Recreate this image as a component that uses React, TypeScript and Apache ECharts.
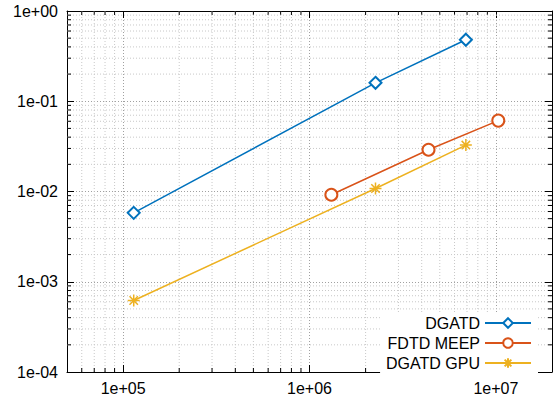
import React, { useEffect, useRef } from "react";
import * as echarts from "echarts";

// ---- data ----
const seriesNames = ["DGATD", "FDTD MEEP", "DGATD GPU"];
const xDGATD = [1.14e5, 2.26e6, 6.9e6];
const yDGATD = [5.8e-3, 0.16, 0.48];
const xMEEP = [1.31e6, 4.35e6, 1.03e7];
const yMEEP = [9.2e-3, 0.029, 0.061];
const xGPU = [1.14e5, 2.26e6, 6.9e6];
const yGPU = [6.2e-4, 0.0108, 0.0327];

const X_MIN = 5e4;
const X_MAX = 2e7;
const Y_MIN = 1e-4;
const Y_MAX = 1;

const xMinor = [
  6e4, 7e4, 8e4, 9e4,
  2e5, 3e5, 4e5, 5e5, 6e5, 7e5, 8e5, 9e5,
  2e6, 3e6, 4e6, 5e6, 6e6, 7e6, 8e6, 9e6,
];
const yMinor = [
  2e-4, 3e-4, 4e-4, 5e-4, 6e-4, 7e-4, 8e-4, 9e-4,
  2e-3, 3e-3, 4e-3, 5e-3, 6e-3, 7e-3, 8e-3, 9e-3,
  2e-2, 3e-2, 4e-2, 5e-2, 6e-2, 7e-2, 8e-2, 9e-2,
  2e-1, 3e-1, 4e-1, 5e-1, 6e-1, 7e-1, 8e-1, 9e-1,
];

const COLORS = ["#0072bd", "#d95319", "#edb120"];
const FONT = "'Liberation Sans', Arial, Helvetica, sans-serif";
const MINOR_COLOR = "#c8c8c8";
const MAJOR_COLOR = "#a0a0a0";
const MINOR_TICK = 4;

const STAR =
  "path://M5 0 L5 10 M0 5 L10 5 M1.5 1.5 L8.5 8.5 M1.5 8.5 L8.5 1.5";

function fmt(v: number): string {
  const e = Math.round(Math.log10(v));
  const a = Math.abs(e);
  return "1e" + (e < 0 ? "-" : "+") + (a < 10 ? "0" + a : String(a));
}

export default function App() {
  const ref = useRef<HTMLDivElement>(null);
  useEffect(() => {
    document.body.style.margin = "0";
    if (!ref.current) return;
    const chart = echarts.init(ref.current, undefined, { renderer: "svg" });

    const lineStyleMinor = { stroke: MINOR_COLOR, lineWidth: 1, lineDash: [1, 2] };
    const tickStyle = { stroke: "#000", lineWidth: 1 };

    const xMinorSeries = {
      type: "custom",
      name: "_xminor",
      xAxisIndex: 0,
      yAxisIndex: 0,
      silent: true,
      z: 1,
      clip: false,
      data: xMinor.map((v) => [v, Y_MIN]),
      encode: { x: 0, y: 1 },
      renderItem: (_p: any, api: any) => {
        const v = api.value(0);
        const b = api.coord([v, Y_MIN]);
        const t = api.coord([v, Y_MAX]);
        return {
          type: "group",
          children: [
            { type: "line", shape: { x1: b[0], y1: b[1], x2: t[0], y2: t[1] }, style: lineStyleMinor },
            { type: "line", shape: { x1: b[0], y1: b[1], x2: b[0], y2: b[1] - MINOR_TICK }, style: tickStyle },
            { type: "line", shape: { x1: t[0], y1: t[1], x2: t[0], y2: t[1] + MINOR_TICK }, style: tickStyle },
          ],
        };
      },
    };

    const yMinorSeries = {
      type: "custom",
      name: "_yminor",
      xAxisIndex: 0,
      yAxisIndex: 0,
      silent: true,
      z: 1,
      clip: false,
      data: yMinor.map((v) => [X_MIN, v]),
      encode: { x: 0, y: 1 },
      renderItem: (_p: any, api: any) => {
        const v = api.value(1);
        const l = api.coord([X_MIN, v]);
        const r = api.coord([X_MAX, v]);
        return {
          type: "group",
          children: [
            { type: "line", shape: { x1: l[0], y1: l[1], x2: r[0], y2: r[1] }, style: lineStyleMinor },
            { type: "line", shape: { x1: l[0], y1: l[1], x2: l[0] + MINOR_TICK, y2: l[1] }, style: tickStyle },
            { type: "line", shape: { x1: r[0], y1: r[1], x2: r[0] - MINOR_TICK, y2: r[1] }, style: tickStyle },
          ],
        };
      },
    };

    const mkLine = (name: string, xs: number[], ys: number[], color: string, symbol: string, size: number) => ({
      type: "line",
      name,
      xAxisIndex: 0,
      yAxisIndex: 0,
      z: 3,
      data: xs.map((x, i) => [x, ys[i]]),
      symbol,
      symbolSize: size,
      showAllSymbol: true,
      lineStyle: { color, width: 1.5 },
      itemStyle: { color, borderColor: color, borderWidth: 1.5 },
      emphasis: { disabled: true },
    });

    const xBase = {
      type: "log",
      logBase: 10,
      min: X_MIN,
      max: X_MAX,
      axisLine: { show: true, lineStyle: { color: "#000", width: 1 } },
      axisTick: { show: true, inside: true, length: 7, lineStyle: { color: "#000" } },
      splitLine: { show: false },
    };
    const yBase = {
      type: "log",
      logBase: 10,
      min: Y_MIN,
      max: Y_MAX,
      axisLine: { show: true, lineStyle: { color: "#000", width: 1 } },
      axisTick: { show: true, inside: true, length: 7, lineStyle: { color: "#000" } },
      splitLine: { show: false },
    };

    chart.setOption({
      animation: false,
      color: COLORS,
      grid: { left: 67, right: 4, top: 11, bottom: 27, containLabel: false },
      legend: {
        data: seriesNames,
        orient: "vertical",
        align: "right",
        right: 18,
        bottom: 26,
        itemWidth: 46,
        itemHeight: 12,
        itemGap: 4,
        padding: [2, 6, 2, 6],
        backgroundColor: "#ffffff",
        textStyle: { fontFamily: FONT, fontSize: 16, color: "#000", lineHeight: 16 },
      },
      xAxis: [
        {
          ...xBase,
          position: "bottom",
          axisLabel: {
            show: true,
            formatter: fmt,
            fontFamily: FONT,
            fontSize: 16,
            color: "#000",
            margin: 8,
            showMinLabel: false,
            showMaxLabel: false,
          },
          splitLine: { show: true, lineStyle: { color: MAJOR_COLOR, type: [1, 2], width: 1 } },
        },
        { ...xBase, position: "top", axisLabel: { show: false } },
      ],
      yAxis: [
        {
          ...yBase,
          position: "left",
          axisLabel: {
            show: true,
            formatter: fmt,
            fontFamily: FONT,
            fontSize: 16,
            color: "#000",
            margin: 9,
          },
          splitLine: { show: true, lineStyle: { color: MAJOR_COLOR, type: [1, 2], width: 1 } },
        },
        { ...yBase, position: "right", axisLabel: { show: false } },
      ],
      series: [
        xMinorSeries,
        yMinorSeries,
        mkLine(seriesNames[0], xDGATD, yDGATD, COLORS[0], "emptyDiamond", 12),
        mkLine(seriesNames[1], xMEEP, yMEEP, COLORS[1], "emptyCircle", 12),
        mkLine(seriesNames[2], xGPU, yGPU, COLORS[2], STAR, 12),
      ],
    });

    return () => chart.dispose();
  }, []);

  return <div ref={ref} style={{ width: 556, height: 399 }} />;
}
